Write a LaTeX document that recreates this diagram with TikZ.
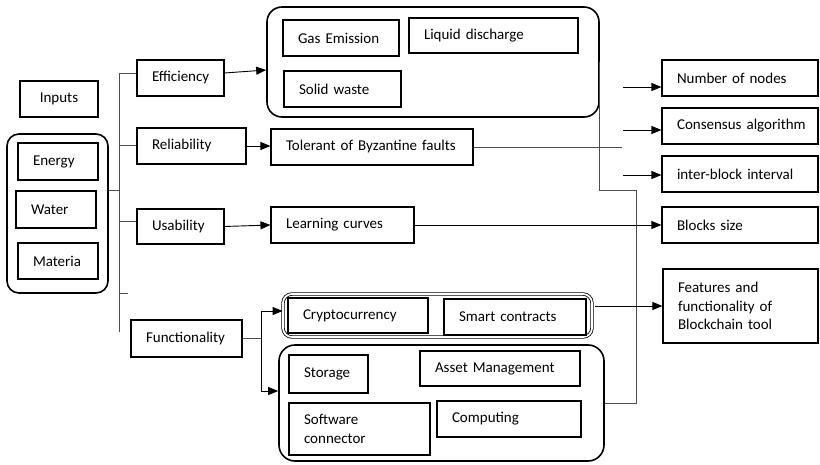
\documentclass[tikz,border=0pt]{standalone}
\usepackage{fontspec}
\setmainfont{Carlito}
\usetikzlibrary{arrows.meta,calc}
\newcommand\mkbox[7][]{%
  \pgfmathsetmacro\bxw{#5-#3}\pgfmathsetmacro\bxh{#6-#4}\pgfmathsetmacro\bxt{#5-#3-30}%
  \node[bx,#1,minimum width=\bxw pt,minimum height=\bxh pt,text width=\bxt pt] (#2) at ({(#3+#5)/2},{(#4+#6)/2}) {#7};}
\newcommand\mkgrp[7][]{%
  \pgfmathsetmacro\bxw{#5-#3}\pgfmathsetmacro\bxh{#6-#4}%
  \node[grp,rounded corners=#7pt,#1,minimum width=\bxw pt,minimum height=\bxh pt] (#2) at ({(#3+#5)/2},{(#4+#6)/2}) {};}
\begin{document}
\begin{tikzpicture}[x=1pt,y=-1pt,
  bx/.style={draw,line width=1.1pt,rectangle,inner xsep=15pt,inner ysep=0pt,align=left,
    font=\fontsize{15}{18.5}\selectfont},
  grp/.style={draw,line width=1.6pt,rectangle,inner sep=0pt},
  dgrp/.style={line width=0.8pt,double,double distance=1.8pt},
  ln/.style={draw=black!70,line width=0.9pt},
  arr/.style={draw=black,line width=0.9pt,-{Triangle[length=10pt,width=8pt]}}]
\useasboundingbox (0,0) rectangle (820,465);
% groups
\mkgrp{inpgrp}{7}{134}{108}{293}{12}
\mkgrp{topgrp}{267}{7}{599}{117}{15}
\mkgrp[dgrp]{crypto}{283}{294}{592}{337}{9}
\mkgrp{lowgrp}{279}{345}{604}{461}{16}
% left boxes
\mkbox[align=center]{inputs}{20}{81}{98}{117}{Inputs}
\mkbox{energy}{18}{143}{98}{180}{Energy}
\mkbox{water}{16}{191}{96}{228}{Water}
\mkbox{materia}{18}{243}{98}{279}{Materia}
% criteria
\mkbox{eff}{137}{60}{224}{96}{Efficiency}
\mkbox{rel}{137}{128}{246}{164}{Reliability}
\mkbox{usa}{137}{209}{224}{244}{Usability}
\mkbox{func}{131}{320}{242}{357}{Functionality}
% top group content
\mkbox{gas}{283}{20}{399}{56}{Gas Emission}
\mkbox{liquid}{409}{18}{578}{53}{Liquid discharge}
\mkbox{solid}{284}{71}{401}{107}{Solid waste}
% middle
\mkbox{tol}{271}{129}{473}{165}{Tolerant of Byzantine faults}
\mkbox{learn}{271}{207}{414}{243}{Learning curves}
% right
\mkbox{num}{662}{60}{818}{96}{Number of nodes}
\mkbox{cons}{662}{108}{818}{144}{\makebox[0pt][l]{Consensus algorithm}}
\mkbox{inter}{662}{156}{818}{192}{inter-block interval}
\mkbox{blocks}{662}{207}{818}{243}{Blocks size}
\mkbox{feat}{663}{269}{818}{343}{Features and\\functionality of\\Blockchain tool}
% functionality groups content
\mkbox{cur}{288}{298}{428}{333}{Cryptocurrency}
\mkbox{smart}{444}{299}{586}{335}{Smart contracts}
\mkbox{stor}{289}{355}{368}{393}{Storage}
\mkbox{asset}{420}{351}{580}{386}{Asset Management}
\mkbox{soft}{289}{403}{430}{455}{Software\\connector}
\mkbox{comp}{437}{401}{581}{437}{Computing}
% trunk
\coordinate (t0) at (119,73);
\coordinate (t1) at (119,332);
\coordinate (tr) at (119,145);
\coordinate (tu) at (119,221);
\coordinate (ts) at (119,293);
\coordinate (tse) at (128,293);
\coordinate (tg) at (119,190);
\draw[ln] (t0) -- (t1);
\draw[ln] (t0) -- (t0 -| eff.west);
\draw[ln] (tr) -- (tr -| rel.west);
\draw[ln] (tu) -- (tu -| usa.west);
\draw[ln] (ts) -- (tse);
\draw[ln] (tg -| inpgrp.east) -- (tg);
% arrows from criteria
\draw[arr] ([yshift=5pt]eff.east) -- ([yshift=-8pt]topgrp.west);
\draw[arr] (rel.east) -- (rel.east -| tol.west);
\draw[arr] (usa.east) -- (learn.west);
% lines to the right
\coordinate (te) at (622,147);
\draw[ln] (tol.east) -- (te);
\draw[arr] (learn.east) -- (blocks.west);
\coordinate (a1) at (623,87);
\coordinate (a2) at (623,130);
\coordinate (a3) at (623,175);
\draw[arr] (a1) -- (a1 -| num.west);
\draw[arr] (a2) -- (a2 -| cons.west);
\draw[arr] (a3) -- (a3 -| inter.west);
% right loop
\coordinate (r1) at (636,190);
\draw[ln] (lowgrp.east) -| (r1) -- (r1 -| topgrp.east) -- (topgrp.east);
% features arrow
\draw[arr,shorten <=3pt] (crypto.east |- feat.west) -- (feat.west);
% functionality split
\coordinate (fj) at (261,338.5);
\draw[ln] (func.east) -- (fj);
\draw[arr] (fj) |- ([yshift=4.5pt]crypto.west);
\draw[arr] (fj) |- ([yshift=12pt]lowgrp.west);
\end{tikzpicture}
\end{document}
